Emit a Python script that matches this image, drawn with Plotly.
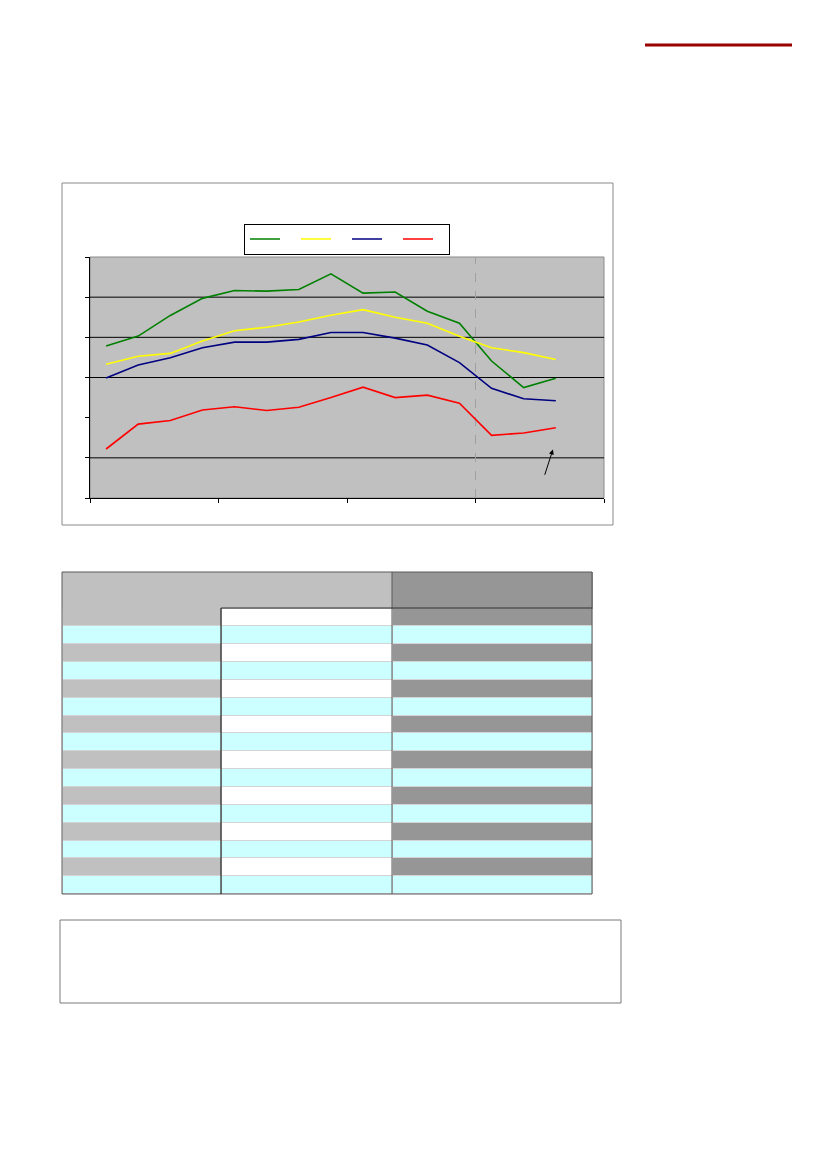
import plotly.graph_objects as go

W, H = 827, 1169

# ---------------- data ----------------
periods = list(range(15))
green = [37.85, 40.3, 45.45, 49.7, 51.65, 51.5, 51.9, 55.8, 51.0, 51.3, 46.5, 43.5, 34.1, 27.5, 29.8]
yellow = [33.3, 35.3, 36.0, 39.1, 41.65, 42.5, 43.8, 45.5, 46.9, 45.0, 43.5, 40.3, 37.4, 36.2, 34.5]
blue = [29.9, 33.1, 34.9, 37.4, 38.8, 38.8, 39.5, 41.2, 41.2, 39.8, 38.1, 33.7, 27.3, 24.7, 24.2]
red = [12.2, 18.4, 19.3, 21.9, 22.7, 21.8, 22.6, 25.0, 27.6, 25.0, 25.6, 23.6, 15.6, 16.2, 17.5]
series_names = ["\u00a0", "\u00a0", "\u00a0", "\u00a0"]
x_tickvals = [-0.5, 3.5, 7.5, 11.5, 15.5]
y_tickvals = [0, 10, 20, 30, 40, 50, 60]
grid_vals = [10, 30, 40, 50]
split_x = 11.5
arrow_tail = (13.64, 5.4)
arrow_head = (13.91, 12.07)

table_rows = 16
col_widths = [159, 171, 200]
header_fill = ["#C0C0C0", "#C0C0C0", "#969696"]
even_fill = ["#C0C0C0", "#FFFFFF", "#969696"]
odd_fill = "#CCFFFF"


def px(x):
    return x / W


def py(y):
    return 1 - y / H


fig = go.Figure()

colors = ["#008000", "#FFFF00", "#000080", "#FF0000"]
for vals, c, n in zip([green, yellow, blue, red], colors, series_names):
    fig.add_trace(go.Scatter(x=periods, y=vals, mode="lines", name=n,
                             line=dict(color=c, width=1.6)))

# table
cell_fill = []
for ci in range(3):
    cell_fill.append([even_fill[ci] if r % 2 == 0 else odd_fill for r in range(table_rows)])
fig.add_trace(go.Table(
    domain=dict(x=[px(62), px(592)], y=[py(905), py(572)]),
    columnwidth=col_widths,
    header=dict(values=["", "", ""], fill_color=header_fill, height=36,
                line=dict(color=header_fill, width=1), font=dict(size=8)),
    cells=dict(values=[[""] * table_rows] * 3, fill_color=cell_fill, height=17.85,
               line=dict(color="#D4D4D4", width=1), font=dict(size=8)),
))

shapes = []
# chart frame
shapes.append(dict(type="rect", xref="paper", yref="paper", x0=px(62), x1=px(613), y0=py(525), y1=py(183),
                   line=dict(color="#8A8A8A", width=1), fillcolor="rgba(0,0,0,0)", layer="below"))
# plot area border
shapes.append(dict(type="rect", xref="x domain", yref="y domain", x0=0, x1=1, y0=0, y1=1,
                   line=dict(color="#8A8A8A", width=1), layer="below"))
for g in grid_vals:
    shapes.append(dict(type="line", xref="x domain", yref="y", x0=0, x1=1, y0=g, y1=g,
                       line=dict(color="black", width=1), layer="below"))
shapes.append(dict(type="line", xref="x", yref="y domain", x0=split_x, x1=split_x, y0=0, y1=1,
                   line=dict(color="#A0A0A0", width=1, dash="dash"), layer="below"))
# top red rule
shapes.append(dict(type="line", xref="paper", yref="paper", x0=px(645), x1=px(792), y0=py(45), y1=py(45),
                   line=dict(color="#990000", width=3)))
# table outer lines
shapes.append(dict(type="rect", xref="paper", yref="paper", x0=px(62), x1=px(592), y0=py(894), y1=py(572),
                   line=dict(color="#5A5A5A", width=1)))
shapes.append(dict(type="line", xref="paper", yref="paper", x0=px(221), x1=px(221), y0=py(894), y1=py(608),
                   line=dict(color="black", width=1)))
shapes.append(dict(type="line", xref="paper", yref="paper", x0=px(392), x1=px(392), y0=py(894), y1=py(572),
                   line=dict(color="#5A5A5A", width=1)))
shapes.append(dict(type="line", xref="paper", yref="paper", x0=px(221), x1=px(592), y0=py(608), y1=py(608),
                   line=dict(color="#333333", width=1)))
# text box
shapes.append(dict(type="rect", xref="paper", yref="paper", x0=px(60), x1=px(621), y0=py(1003), y1=py(920),
                   line=dict(color="#7A7A7A", width=1)))

fig.update_layout(
    width=W, height=H, autosize=False,
    margin=dict(l=0, r=0, t=0, b=0, pad=0),
    paper_bgcolor="white", plot_bgcolor="#C0C0C0",
    font=dict(family="Liberation Sans, Arial", size=8, color="black"),
    shapes=shapes,
    showlegend=True,
    legend=dict(orientation="h", x=px(244), y=py(239), xanchor="left", yanchor="middle",
                bgcolor="white", bordercolor="black", borderwidth=1,
                itemwidth=30, entrywidth=6, entrywidthmode="pixels",
                font=dict(size=5), tracegroupgap=0),
    xaxis=dict(domain=[px(90), px(604)], range=[-0.5, 15.5], tickvals=x_tickvals,
               ticks="outside", ticklen=4, tickcolor="black", showticklabels=False,
               showgrid=False, zeroline=False, showline=True, linecolor="black", linewidth=1),
    yaxis=dict(domain=[py(498), py(257)], range=[0, 60], tickvals=y_tickvals,
               ticks="outside", ticklen=4, tickcolor="black", showticklabels=False,
               showgrid=False, zeroline=False, showline=True, linecolor="black", linewidth=1),
    annotations=[dict(x=arrow_head[0], y=arrow_head[1], ax=arrow_tail[0], ay=arrow_tail[1],
                      xref="x", yref="y", axref="x", ayref="y", text="", showarrow=True,
                      arrowhead=2, arrowsize=1, arrowwidth=1, arrowcolor="black")],
)

fig.write_html("out.html", config={"displayModeBar": False},
               post_script="document.body.style.margin='0';")
